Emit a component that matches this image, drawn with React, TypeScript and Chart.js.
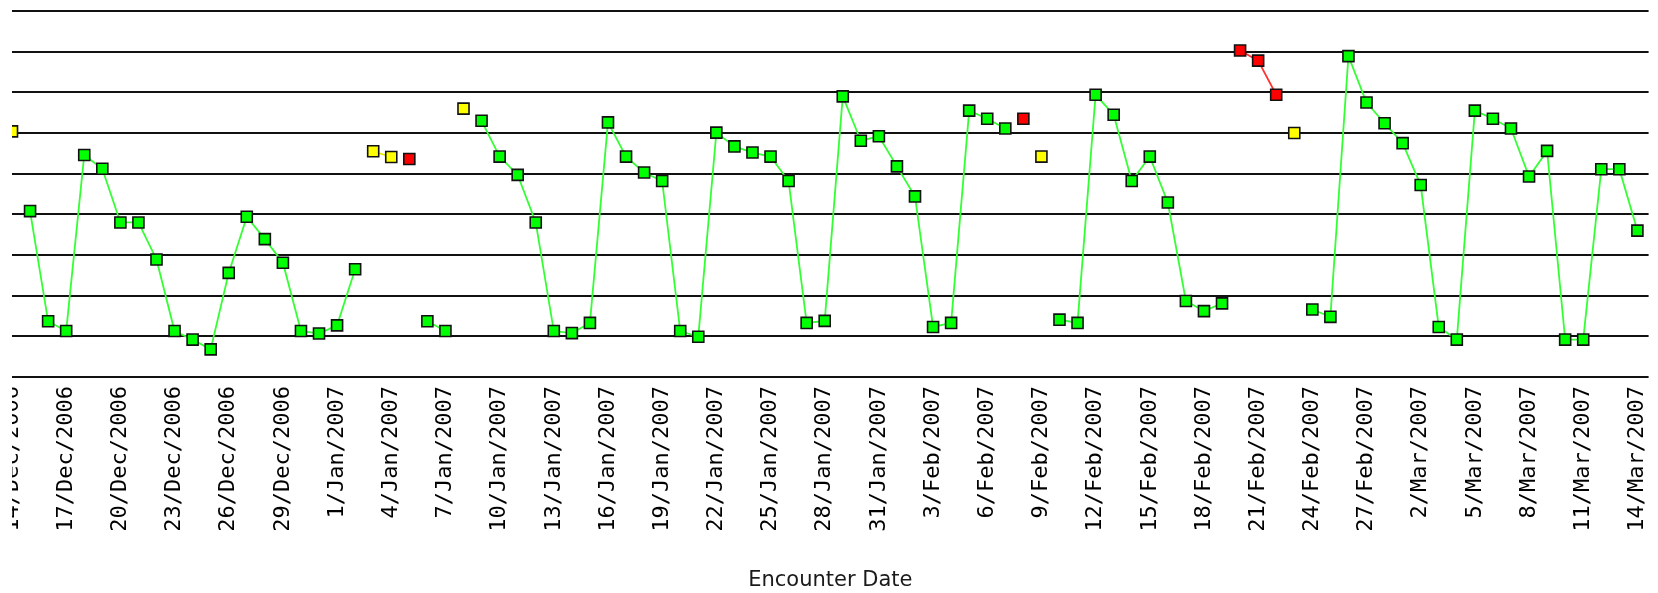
import React, { useEffect, useRef } from "react";
import { Chart, registerables } from "chart.js";

Chart.register(...registerables);

// Tick labels (every third day, 14/Dec/2006 .. 14/Mar/2007)
const tickLabels = [
  "14/Dec/2006", "17/Dec/2006", "20/Dec/2006", "23/Dec/2006", "26/Dec/2006", "29/Dec/2006",
  "1/Jan/2007", "4/Jan/2007", "7/Jan/2007", "10/Jan/2007", "13/Jan/2007", "16/Jan/2007",
  "19/Jan/2007", "22/Jan/2007", "25/Jan/2007", "28/Jan/2007", "31/Jan/2007", "3/Feb/2007",
  "6/Feb/2007", "9/Feb/2007", "12/Feb/2007", "15/Feb/2007", "18/Feb/2007", "21/Feb/2007",
  "24/Feb/2007", "27/Feb/2007", "2/Mar/2007", "5/Mar/2007", "8/Mar/2007", "11/Mar/2007",
  "14/Mar/2007",
];
const tickStep = 3; // days between tick labels

// One reading per day, 14/Dec/2006 .. 14/Mar/2007
const values = [
  60.4, 40.8, 13.7, 11.3, 54.6, 51.2, 38.0, 38.0, 28.9, 11.3,
  9.2, 6.8, 25.6, 39.4, 33.9, 28.1, 11.3, 10.7, 12.7, 26.5,
  55.5, 54.1, 53.6, 13.7, 11.3, 66.0, 63.0, 54.2, 49.7, 38.0,
  11.3, 10.8, 13.3, 62.6, 54.2, 50.3, 48.2, 11.3, 9.9, 60.1,
  56.7, 55.2, 54.2, 48.2, 13.3, 13.8, 69.0, 58.1, 59.2, 51.8,
  44.4, 12.3, 13.3, 65.5, 63.5, 61.1, 63.5, 54.2, 14.1, 13.3,
  69.4, 64.5, 48.2, 54.2, 42.9, 18.7, 16.2, 18.1, 80.3, 77.8,
  69.4, 60.0, 16.6, 14.8, 78.9, 67.5, 62.4, 57.5, 47.2, 12.3,
  9.2, 65.5, 63.5, 61.1, 49.3, 55.6, 9.2, 9.2, 51.1, 51.1,
  36.0,
];

// Status of each reading: G = green, Y = yellow, R = red
const status = [
  "Y", "G", "G", "G", "G", "G", "G", "G", "G", "G",
  "G", "G", "G", "G", "G", "G", "G", "G", "G", "G",
  "Y", "Y", "R", "G", "G", "Y", "G", "G", "G", "G",
  "G", "G", "G", "G", "G", "G", "G", "G", "G", "G",
  "G", "G", "G", "G", "G", "G", "G", "G", "G", "G",
  "G", "G", "G", "G", "G", "G", "R", "Y", "G", "G",
  "G", "G", "G", "G", "G", "G", "G", "G", "R", "R",
  "R", "Y", "G", "G", "G", "G", "G", "G", "G", "G",
  "G", "G", "G", "G", "G", "G", "G", "G", "G", "G",
  "G",
];

const yMin = 0;
const yMax = 90;
const yStep = 10;

const seriesStyles = [
  { code: "G", fill: "#00ff00", line: "#33ff33" },
  { code: "Y", fill: "#ffff00", line: "#e8e800" },
  { code: "R", fill: "#ff0000", line: "#ff3333" },
];

export default function App() {
  const canvasRef = useRef<HTMLCanvasElement | null>(null);

  useEffect(() => {
    const canvas = canvasRef.current;
    if (!canvas) return;

    const datasets = seriesStyles.map((s) => ({
      label: s.code,
      data: values.map((v, i) => ({ x: i, y: status[i] === s.code ? v : null })),
      borderColor: s.line,
      borderWidth: 1.8,
      pointStyle: "rect" as const,
      pointRadius: 7.8,
      pointBackgroundColor: s.fill,
      pointBorderColor: "#111111",
      pointBorderWidth: 1.6,
      tension: 0,
      spanGaps: false,
      fill: false,
    }));

    const chart = new Chart(canvas, {
      type: "line",
      data: { datasets },
      options: {
        animation: false,
        responsive: false,
        events: [],
        layout: { padding: { left: 30, right: 6, top: 11, bottom: 0 } },
        plugins: { legend: { display: false }, tooltip: { enabled: false } },
        scales: {
          x: {
            type: "linear",
            min: 0,
            max: 90.62,
            grid: { display: false, drawTicks: false },
            border: { display: false },
            afterBuildTicks: (scale: any) => {
              scale.ticks = tickLabels.map((_, i) => ({ value: i * tickStep }));
            },
            afterFit: (scale: any) => {
              scale.height = 216;
              scale.paddingLeft = 0;
              scale.paddingRight = 0;
            },
            ticks: {
              autoSkip: false,
              minRotation: 90,
              maxRotation: 90,
              padding: 9,
              color: "#000000",
              font: { family: "'DejaVu Sans Mono'", size: 22 },
              callback: (value: any) => tickLabels[Math.round(Number(value) / tickStep)] ?? "",
            },
            title: {
              display: true,
              text: "Encounter Date",
              color: "#1a1a1a",
              font: { family: "'DejaVu Sans'", size: 21 },
              padding: { top: 0, bottom: 0 },
            },
          },
          y: {
            min: yMin,
            max: yMax,
            grid: { color: "#111111", lineWidth: 2, drawTicks: false },
            border: { display: false },
            ticks: { display: false, stepSize: yStep },
            afterFit: (scale: any) => {
              scale.width = 0;
              scale.paddingTop = 0;
              scale.paddingBottom = 0;
            },
          },
        },
      },
    });

    return () => chart.destroy();
  }, []);

  return (
    <div
      style={{
        position: "absolute",
        left: 12,
        top: 0,
        width: 1646,
        height: 593,
        overflow: "hidden",
        background: "#ffffff",
      }}
    >
      <canvas
        ref={canvasRef}
        width={1676}
        height={593}
        style={{ position: "absolute", left: -30, top: 0, width: 1676, height: 593 }}
      />
    </div>
  );
}
